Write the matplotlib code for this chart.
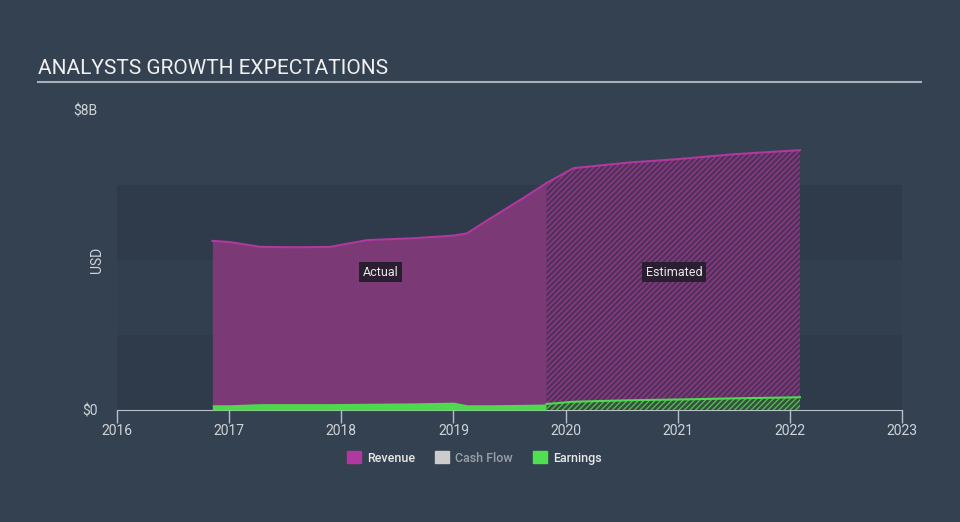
import matplotlib
matplotlib.use("Agg")
import matplotlib.pyplot as plt
from matplotlib.patches import Patch

plt.rcParams['font.family'] = ['Roboto', 'DejaVu Sans']
plt.rcParams['hatch.linewidth'] = 1.0

# values in billions USD, x in fractional years
actual_years = [2016.85, 2017.0, 2017.28, 2017.6, 2017.9, 2018.23, 2018.64, 2019.0, 2019.12, 2019.33, 2019.6, 2019.83]
actual_revenue = [4.51, 4.48, 4.35, 4.34, 4.35, 4.53, 4.58, 4.65, 4.71, 5.11, 5.61, 6.05]
actual_earnings = [0.14, 0.14, 0.17, 0.17, 0.17, 0.18, 0.19, 0.21, 0.14, 0.14, 0.15, 0.16]

est_years = [2019.83, 2020.07, 2020.57, 2021.0, 2021.5, 2022.09]
est_revenue = [6.05, 6.45, 6.6, 6.69, 6.82, 6.93]
est_earnings = [0.16, 0.22, 0.26, 0.28, 0.31, 0.34]

year_ticks = [2016, 2017, 2018, 2019, 2020, 2021, 2022, 2023]

bg = '#344151'
band = '#2f3b4a'
rev_line = '#b0389e'
rev_fill = '#7b3a76'
earn_col = '#4fd94f'

fig = plt.figure(figsize=(9.6, 5.22), dpi=100, facecolor=bg)
ax = fig.add_axes([117 / 960, 112 / 522, 785 / 960, 300 / 522])
ax.set_facecolor(bg)
ax.set_xlim(2016, 2023)
ax.set_ylim(0, 8)

# background bands
ax.axhspan(0, 2, color=band, lw=0, zorder=0)
ax.axhspan(2, 4, color='#323f4e', lw=0, zorder=0)
ax.axhspan(4, 6, color=band, lw=0, zorder=0)

# actual
ax.fill_between(actual_years, 0, actual_revenue, color=rev_fill, lw=0, zorder=2)
ax.plot(actual_years, actual_revenue, color=rev_line, lw=1.5, zorder=4)
ax.fill_between(actual_years, 0, actual_earnings, color=earn_col, lw=0, zorder=3)

# estimated (hatched)
ax.fill_between(est_years, 0, est_revenue, facecolor='#52315a', edgecolor='#8e3a88',
                hatch='//////', lw=0, zorder=2)
ax.plot(est_years, est_revenue, color=rev_line, lw=1.5, zorder=4)
ax.fill_between(est_years, 0, est_earnings, facecolor='#34503c', edgecolor='#55b855',
                hatch='//////', lw=0, zorder=3)
ax.plot(est_years, est_earnings, color=earn_col, lw=1.5, zorder=4)

box = dict(boxstyle='square,pad=0.3', facecolor='#2a1f30', edgecolor='none')
ax.text(2018.35, 3.68, 'Actual', color='#e8e8e8', fontsize=9, ha='center', va='center', bbox=box, zorder=5)
ax.text(2020.97, 3.68, 'Estimated', color='#e8e8e8', fontsize=9, ha='center', va='center', bbox=box, zorder=5)

for s in ['top', 'right', 'left']:
    ax.spines[s].set_visible(False)
ax.spines['bottom'].set_color('#b8c0c8')
ax.set_xticks(year_ticks)
ax.set_xticklabels([str(y) for y in year_ticks])
ax.tick_params(axis='x', colors='#b8c0c8', length=9, width=1, labelcolor='#d0d4d8', labelsize=10, pad=1)
ax.set_yticks([0, 8])
ax.set_yticklabels(['$0', '$8B'])
ax.tick_params(axis='y', length=0, labelcolor='#d0d4d8', labelsize=10, pad=14)
ax.set_ylabel('USD', color='#d0d4d8', fontsize=10, labelpad=4)
ax.yaxis.set_label_coords(-0.017, 0.5)

fig.text(38 / 960, 1 - 68 / 522, 'ANALYSTS GROWTH EXPECTATIONS', color='#f0f0f0',
         fontsize=15, va='center', ha='left')
fig.add_artist(plt.Line2D([38 / 960, 921 / 960], [1 - 82 / 522, 1 - 82 / 522],
                          color='#a8b0b8', lw=1.5))

handles = [Patch(color='#b0389e', label='Revenue'),
           Patch(color='#cccccc', label='Cash Flow'),
           Patch(color='#4fe04f', label='Earnings')]
leg = fig.legend(handles=handles, loc='center', bbox_to_anchor=(0.494, 1 - 458 / 522),
                 ncol=3, frameon=False, prop={'size': 9, 'weight': 'medium'},
                 handlelength=1.1, handleheight=1.1, columnspacing=1.6, handletextpad=0.5)
for t, c in zip(leg.get_texts(), ['#e8e8e8', '#9aa0a8', '#e8e8e8']):
    t.set_color(c)

fig.savefig('out.png', dpi=100, facecolor=bg)
